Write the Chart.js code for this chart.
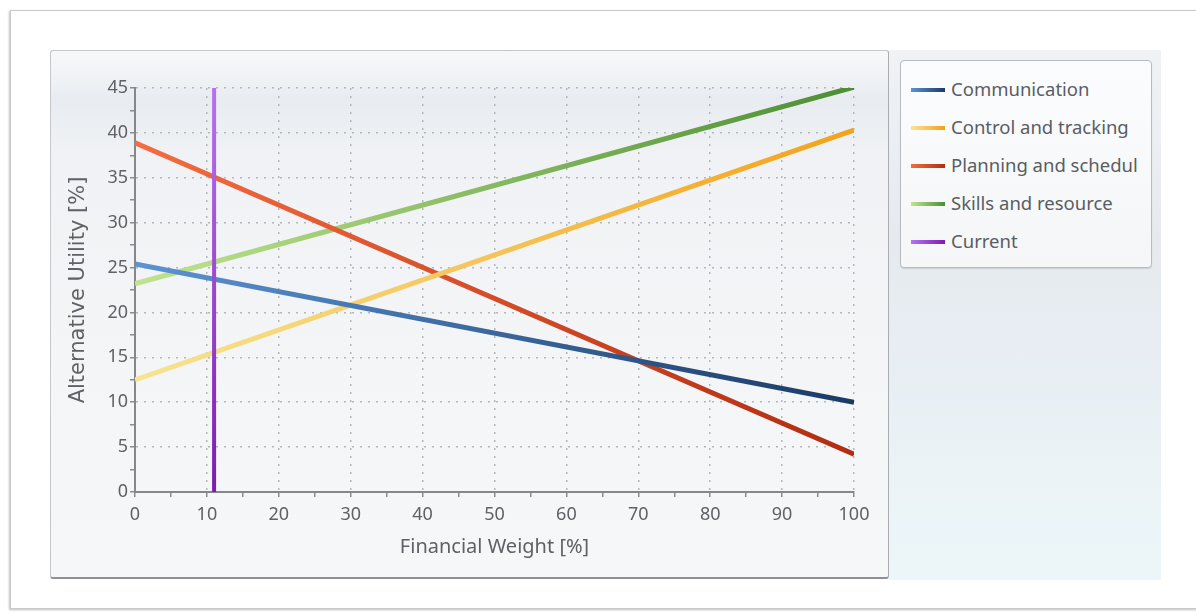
<!DOCTYPE html>
<html>
<head>
<meta charset="utf-8">
<script src="https://cdn.jsdelivr.net/npm/chart.js@4.4.1/dist/chart.umd.min.js"></script>
<style>
  html, body { margin: 0; padding: 0; background: #fff; }
  #wrap { position: relative; width: 1196px; height: 616px; overflow: hidden; font-family: "Noto Sans", sans-serif; }
  #frame { position: absolute; left: 10px; top: 10px; width: 1200px; height: 597px; border: 1px solid #c9c9c9; box-shadow: -1px 1px 2px rgba(0,0,0,0.25); background: #fff; }
  #panel { position: absolute; left: 50px; top: 50px; width: 837px; height: 526px; border: 1px solid #c4c8cc; border-bottom: 2px solid #8e9094; border-right: 1px solid #a9acb0; border-radius: 3px;
    background: linear-gradient(to bottom, #f7f8fa 0%, #eef1f4 6%, #e8ecf0 9%, #f0f2f5 20%, #f4f5f7 60%, #f6f7f8 100%); }
  #side { position: absolute; left: 889px; top: 50px; width: 272px; height: 530px;
    background: linear-gradient(to bottom, #f0f2f5 0%, #e6eaef 35%, #e7edf2 55%, #ebf3f7 80%, #ecf6f9 100%); }
  #legend { position: absolute; left: 900px; top: 60px; width: 250px; height: 206px; border: 1px solid #b7bbc2; border-radius: 4px;
    background: linear-gradient(to bottom, #fbfcfd 0%, #f4f6f8 100%); box-shadow: 0 1px 1px rgba(0,0,0,0.12); }
  .item { position: absolute; left: 10px; height: 24px; line-height: 24px; font-size: 18.5px; color: #5a5d62; white-space: nowrap; }
  .sw { display: inline-block; width: 34px; height: 4px; vertical-align: middle; margin-right: 6px; margin-top: -2px; }
  canvas { position: absolute; left: 0; top: 0; }
</style>
</head>
<body>
<div id="wrap">
  <div id="frame"></div>
  <div id="panel"></div>
  <div id="side"></div>
  <div id="legend"></div>
  <canvas id="utilityChart" width="1196" height="616"></canvas>
</div>
<script>
// Dados
const weights = [0, 100];
const seriesNames = ['Communication', 'Control and tracking', 'Planning and schedul', 'Skills and resource', 'Current'];
const communication = [25.4, 10.0];
const controlTracking = [12.5, 40.3];
const planningSchedule = [38.9, 4.2];
const skillsResource = [23.2, 45.1];
const currentWeight = [11, 11];
const currentRange = [0, 45];

// Cores (claro -> escuro)
const colorStops = [
    ['#5b93d3', '#1a3a66'],
    ['#f7e493', '#f2a31a'],
    ['#f46c40', '#b22d10'],
    ['#c0e48f', '#4c8e33'],
    ['#b672f2', '#7c1cae']
];

function pontos(xs, ys) {
    return xs.map((x, i) => ({ x: x, y: ys[i] }));
}

function gradiente(idx, vertical) {
    return function (context) {
        const chart = context.chart;
        const area = chart.chartArea;
        if (!area) return colorStops[idx][1];
        const g = vertical
            ? chart.ctx.createLinearGradient(0, area.top, 0, area.bottom)
            : chart.ctx.createLinearGradient(area.left, 0, area.right, 0);
        g.addColorStop(0, colorStops[idx][0]);
        g.addColorStop(1, colorStops[idx][1]);
        return g;
    };
}

const valores = [communication, controlTracking, planningSchedule, skillsResource];
const datasets = valores.map((v, i) => ({
    label: seriesNames[i],
    data: pontos(weights, v),
    borderColor: gradiente(i, false),
    borderWidth: 5,
    pointRadius: 0,
    fill: false,
    order: 1
}));
datasets.push({
    label: seriesNames[4],
    data: pontos(currentWeight, currentRange),
    borderColor: gradiente(4, true),
    borderWidth: 4,
    pointRadius: 0,
    fill: false,
    order: 0
});

// Legenda HTML
const legend = document.getElementById('legend');
seriesNames.forEach((name, i) => {
    const row = document.createElement('div');
    row.className = 'item';
    row.style.top = (16 + i * 38) + 'px';
    const sw = document.createElement('span');
    sw.className = 'sw';
    sw.style.background = 'linear-gradient(to right, ' + colorStops[i][0] + ', ' + colorStops[i][1] + ')';
    row.appendChild(sw);
    row.appendChild(document.createTextNode(name));
    legend.appendChild(row);
});

const corTexto = '#5f6166';
const fonteTicks = { family: '"Noto Sans", sans-serif', size: 18 };
const fonteTituloX = { family: '"Noto Sans", sans-serif', size: 20 };
const fonteTituloY = { family: '"DejaVu Sans", sans-serif', size: 21 };

new Chart(document.getElementById('utilityChart'), {
    type: 'line',
    data: { datasets: datasets },
    options: {
        responsive: false,
        animation: false,
        layout: { padding: { left: 50, top: 88, right: 342, bottom: 44 } },
        plugins: {
            legend: { display: false },
            tooltip: { enabled: false }
        },
        scales: {
            x: {
                type: 'linear',
                min: 0,
                max: 100,
                afterFit: function (scale) { scale.height = 80; },
                ticks: {
                    stepSize: 5,
                    autoSkip: false,
                    maxRotation: 0,
                    padding: 7,
                    color: corTexto,
                    font: fonteTicks,
                    callback: v => (v % 10 === 0 ? v : '')
                },
                grid: {
                    color: c => (c.tick && c.tick.value % 10 === 0 ? '#b4b7bb' : 'rgba(0,0,0,0)'),
                    lineWidth: 1.5,
                    tickColor: '#8a8c90',
                    tickLength: 5,
                    tickWidth: 1.5
                },
                border: { color: '#85878b', width: 2, dash: [2, 6] },
                title: {
                    display: true,
                    text: 'Financial Weight [%]',
                    color: corTexto,
                    font: fonteTituloX,
                    padding: { top: 0, bottom: 13 }
                }
            },
            y: {
                type: 'linear',
                min: 0,
                max: 45,
                afterFit: function (scale) { scale.width = 85; },
                ticks: {
                    stepSize: 2.5,
                    autoSkip: false,
                    padding: 2,
                    color: corTexto,
                    font: fonteTicks,
                    callback: v => (v % 5 === 0 ? v : '')
                },
                grid: {
                    color: c => (c.tick && c.tick.value % 5 === 0 ? '#b4b7bb' : 'rgba(0,0,0,0)'),
                    lineWidth: 1.5,
                    tickColor: '#8a8c90',
                    tickLength: 5,
                    tickWidth: 1.5
                },
                border: { color: '#85878b', width: 2, dash: [2, 6] },
                title: {
                    display: true,
                    text: 'Alternative Utility [%]',
                    color: corTexto,
                    font: fonteTituloY,
                    padding: { top: 16, bottom: 0 }
                }
            }
        }
    }
});
</script>
</body>
</html>
